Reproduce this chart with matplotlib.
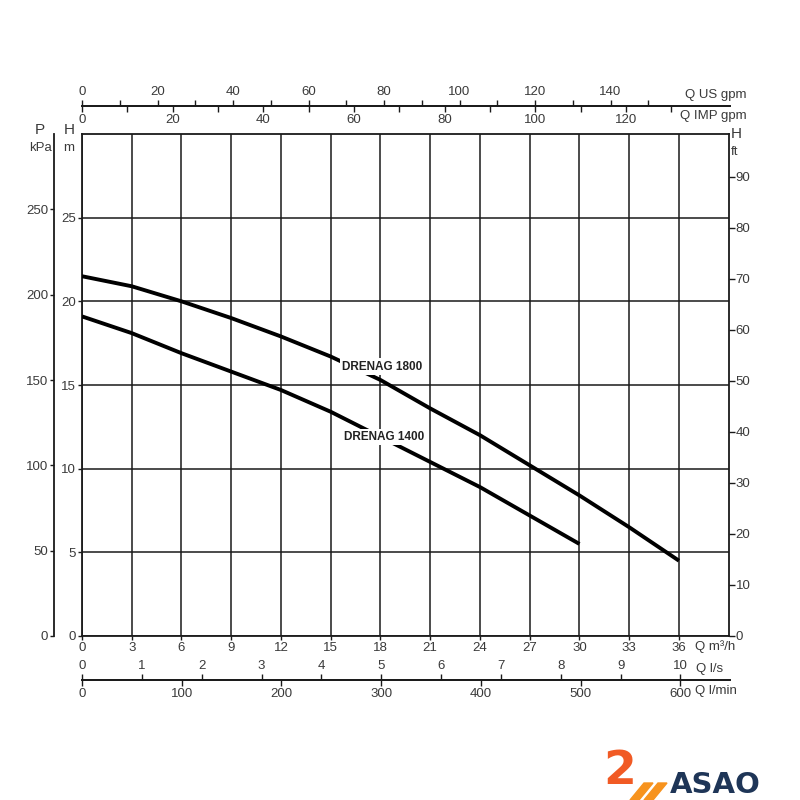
import matplotlib
matplotlib.use('Agg')
import matplotlib.pyplot as plt
from matplotlib.patches import Polygon

plt.rcParams['font.family'] = ['Liberation Sans', 'DejaVu Sans']

# flow in m3/h, head in m
q_1800 = [0, 3, 6, 9, 12, 15, 18, 21, 24, 27, 30, 33, 36]
h_1800 = [21.5, 20.9, 20.0, 19.0, 17.9, 16.7, 15.3, 13.6, 12.0, 10.2, 8.4, 6.5, 4.5]
q_1400 = [0, 3, 6, 9, 12, 15, 18, 21, 24, 27, 30]
h_1400 = [19.1, 18.1, 16.9, 15.8, 14.7, 13.4, 11.9, 10.4, 8.9, 7.2, 5.5]

q_ticks = list(range(0, 37, 3))
h_ticks = [0, 5, 10, 15, 20, 25]
ft_ticks = list(range(0, 91, 10))
kpa_ticks = [0, 50, 100, 150, 200, 250]
usgpm_major = list(range(0, 141, 20))
usgpm_minor = list(range(10, 151, 20))
impgpm_major = list(range(0, 121, 20))
impgpm_minor = list(range(10, 131, 20))
ls_ticks = list(range(0, 11))
lmin_ticks = list(range(0, 601, 100))

QMAX, HMAX = 39, 30
TXT = '#3a3a3a'
LINE = '#1a1a1a'

W = H = 800
def fx(x):
    return x / W
def fy(y):
    return 1 - y / H

fig = plt.figure(figsize=(8, 8), dpi=100)
fig.patch.set_facecolor('white')

left, right = 82, 728.7
ax = fig.add_axes([fx(left), fy(636), (right - left) / W, (636 - 134) / H])
ax.set_xlim(0, QMAX)
ax.set_ylim(0, HMAX)
ax.set_xticks(q_ticks)
ax.set_yticks(h_ticks)
ax.grid(True, color=LINE, lw=1.1)
ax.set_axisbelow(True)
for s in ax.spines.values():
    s.set_color(LINE)
    s.set_linewidth(1.3)
ax.tick_params(axis='both', direction='out', length=3, width=1, color=LINE,
               labelsize=9.5, labelcolor=TXT, pad=1.5)

ax.plot(q_1800, h_1800, color='black', lw=2.8, solid_capstyle='butt', zorder=3)
ax.plot(q_1400, h_1400, color='black', lw=2.8, solid_capstyle='butt', zorder=3)
ax.text(15.7, 16.1, 'DRENAG 1800', fontsize=8.5, fontweight='bold', color='#222',
        va='center', ha='left', zorder=4,
        bbox=dict(facecolor='white', edgecolor='none', pad=1.5))
ax.text(15.8, 11.9, 'DRENAG 1400', fontsize=8.5, fontweight='bold', color='#222',
        va='center', ha='left', zorder=4,
        bbox=dict(facecolor='white', edgecolor='none', pad=1.5))

# head in ft on the right
axr = ax.twinx()
axr.set_ylim(0, HMAX * 3.28084)
axr.set_yticks(ft_ticks)
for s in axr.spines.values():
    s.set_visible(False)
axr.tick_params(axis='y', direction='out', length=4, width=1, color=LINE,
                labelsize=9.5, labelcolor=TXT, pad=1)

# pressure in kPa, separate spine on the left
axp = ax.twinx()
axp.set_ylim(0, HMAX * 9.80665)
axp.yaxis.set_ticks_position('left')
axp.set_yticks(kpa_ticks)
for k in ['top', 'right', 'bottom']:
    axp.spines[k].set_visible(False)
axp.spines['left'].set_position(('outward', 20))
axp.spines['left'].set_color(LINE)
axp.spines['left'].set_linewidth(1.3)
axp.tick_params(axis='y', direction='out', length=3, width=1, color=LINE,
                labelsize=9.5, labelcolor=TXT, pad=1.5)

# extra flow scales drawn as bare axis lines
def scale_axis(y, xmax, major, minor, side):
    a = fig.add_axes([fx(left), fy(y), (right - left) / W + 0.002, 1e-6])
    a.set_xlim(0, xmax)
    a.set_yticks([])
    a.patch.set_visible(False)
    for k in ['top', 'left', 'right']:
        a.spines[k].set_visible(False)
    a.spines['bottom'].set_color(LINE)
    a.spines['bottom'].set_linewidth(1.3)
    a.xaxis.set_ticks_position(side)
    a.set_xticks(major)
    a.set_xticks(minor, minor=True)
    a.tick_params(axis='x', which='both', direction='out', length=4, width=1,
                  color=LINE, labelsize=9.5, labelcolor=TXT, pad=1.5)
    if side == 'top':
        a.tick_params(axis='x', labeltop=True, labelbottom=False)
    return a

scale_axis(106, QMAX * 4.40287, usgpm_major, usgpm_minor, 'top')
scale_axis(106, QMAX * 3.66615, impgpm_major, impgpm_minor, 'bottom')
scale_axis(680, QMAX / 3.6, ls_ticks, [], 'top')
scale_axis(680, QMAX / 0.06, lmin_ticks, [], 'bottom')

def label(x, y, s, ha='left', size=9.5):
    fig.text(fx(x), fy(y), s, ha=ha, va='center', fontsize=size, color=TXT)

label(685, 95, 'Q US gpm')
label(680, 116, 'Q IMP gpm')
label(695, 647, 'Q m³/h')
label(696, 669, 'Q l/s')
label(695, 691, 'Q l/min')
label(40, 130, 'P', ha='center', size=11)
label(40, 148, 'kPa', ha='center')
label(69, 130, 'H', ha='center', size=11)
label(69, 148, 'm', ha='center')
label(731, 134, 'H', size=11)
label(731, 152, 'ft')

# logo
fig.text(fx(670), fy(785), 'ASAO', ha='left', va='center', fontsize=21,
         fontweight='bold', color='#1e3557', family='DejaVu Sans')
fig.text(fx(603), fy(772), '2', ha='left', va='center', fontsize=34,
         fontweight='bold', color='#f15a24', family='DejaVu Sans')
for dx in [0, 14]:
    pts = [(630 + dx, 800), (639 + dx, 800), (653 + dx, 783), (644 + dx, 783)]
    fig.patches.append(Polygon([(fx(a), fy(b)) for a, b in pts], closed=True,
                               transform=fig.transFigure, color='#f7931e'))

fig.savefig('out.png', dpi=100, facecolor='white')
plt.close(fig)
